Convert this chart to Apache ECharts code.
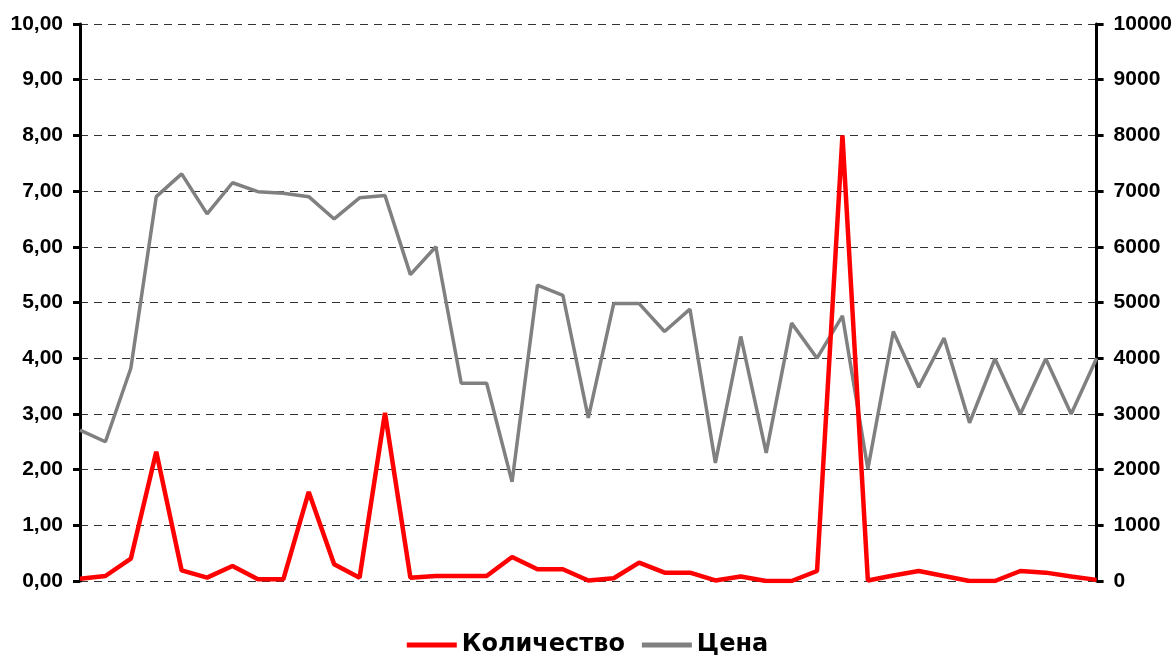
<!DOCTYPE html>
<html>
<head>
<meta charset="utf-8">
<script src="https://cdn.jsdelivr.net/npm/echarts@6/dist/echarts.min.js"></script>
<style>html,body{margin:0;padding:0;background:#fff;}#c{width:1175px;height:655px;}</style>
</head>
<body>
<div id="c"></div>
<script>
const categories = ["1","2","3","4","5","6","7","8","9","10","11","12","13","14","15","16","17","18","19","20","21","22","23","24","25","26","27","28","29","30","31","32","33","34","35","36","37","38","39","40","41"];
const quantity = [0.04,0.09,0.40,2.32,0.19,0.06,0.27,0.03,0.03,1.60,0.30,0.06,3.02,0.06,0.09,0.09,0.09,0.43,0.21,0.21,0.01,0.05,0.33,0.15,0.15,0.01,0.08,0.00,0.00,0.18,8.00,0.01,0.10,0.18,0.09,0.00,0.00,0.18,0.15,0.08,0.02];
const price = [2710,2500,3820,6900,7310,6590,7150,6990,6960,6900,6500,6880,6920,5500,6000,3550,3550,1780,5310,5130,2930,4980,4980,4480,4880,2120,4390,2300,4630,4000,4760,2010,4480,3480,4360,2840,3990,3000,3990,3000,4000];
const leftTicks = {min:0, max:10, interval:1};
const rightTicks = {min:0, max:10000, interval:1000};

const chart = echarts.init(document.getElementById('c'));
const font = '"Liberation Sans", Arial, sans-serif';
chart.setOption({
  animation:false,
  backgroundColor:'#fff',
  grid:{left:80, right:78, top:24, bottom:74},
  legend:{
    top:628, left:'center',
    itemWidth:50, itemHeight:5, itemGap:17,
    icon:'rect',
    textStyle:{fontFamily:'"DejaVu Sans", sans-serif', fontWeight:'bold', fontSize:24, color:'#000'},
    data:[{name:'Количество', itemStyle:{color:'#ff0000'}},{name:'Цена', itemStyle:{color:'#808080'}}]
  },
  xAxis:{
    type:'category', data:categories, boundaryGap:false,
    axisLine:{show:false}, axisTick:{show:false}, axisLabel:{show:false}, splitLine:{show:false}
  },
  yAxis:[{
    type:'value', min:leftTicks.min, max:leftTicks.max, interval:leftTicks.interval, position:'left',
    axisLine:{show:true, lineStyle:{color:'#000', width:3}},
    axisTick:{show:true, length:7, lineStyle:{color:'#000', width:3}},
    axisLabel:{margin:17, fontFamily:font, fontWeight:'bold', fontSize:21, color:'#000',
      formatter:v=>v.toFixed(2).replace('.',',')},
    splitLine:{show:true, lineStyle:{color:'#333', width:1, type:[8,6]}}
  },{
    type:'value', min:rightTicks.min, max:rightTicks.max, interval:rightTicks.interval, position:'right',
    axisLine:{show:true, lineStyle:{color:'#000', width:3}},
    axisTick:{show:true, length:7, lineStyle:{color:'#000', width:3}},
    axisLabel:{margin:17, fontFamily:font, fontWeight:'bold', fontSize:21, color:'#000',
      formatter:v=>String(v)},
    splitLine:{show:false}
  }],
  series:[{
    name:'Количество', type:'line', yAxisIndex:0, data:quantity,
    symbol:'none', lineStyle:{color:'#ff0000', width:4.5}, itemStyle:{color:'#ff0000'}, z:3
  },{
    name:'Цена', type:'line', yAxisIndex:1, data:price,
    symbol:'none', lineStyle:{color:'#808080', width:3.5}, itemStyle:{color:'#808080'}, z:2
  }]
});
</script>
</body>
</html>
